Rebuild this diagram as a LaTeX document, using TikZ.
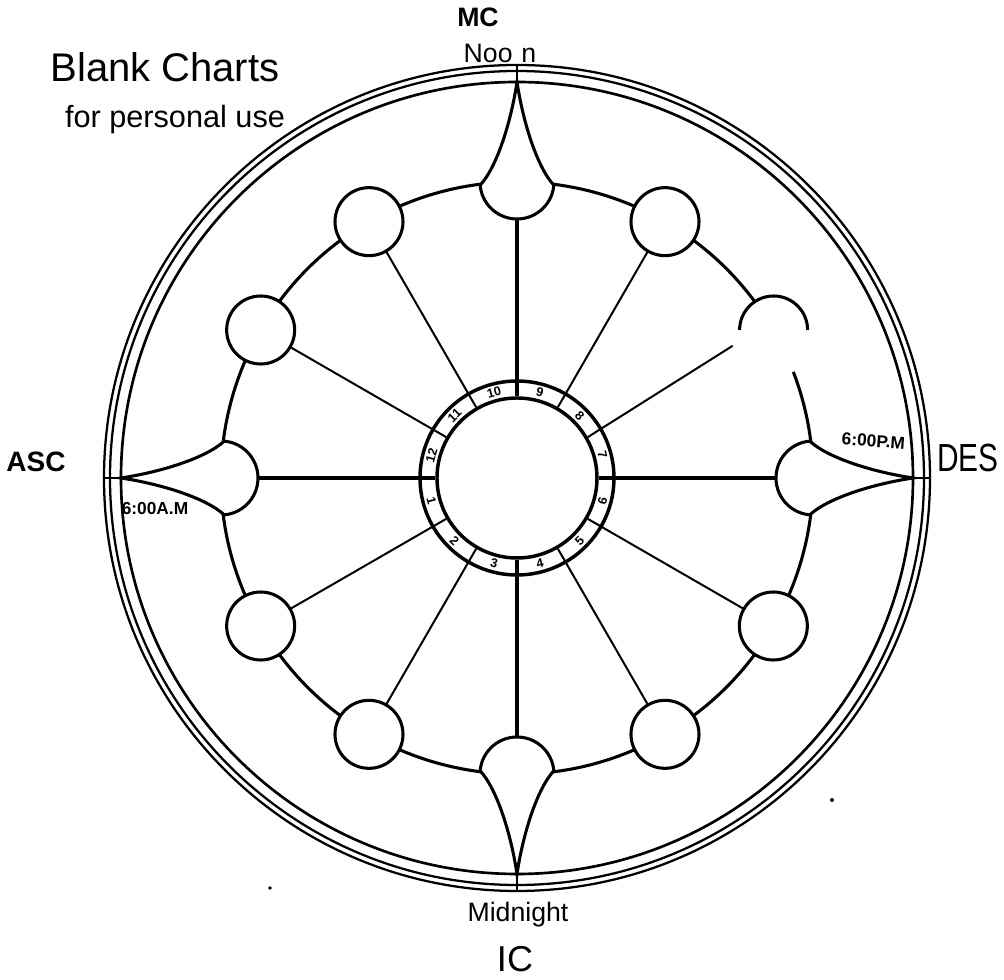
\documentclass[tikz,border=0pt]{standalone}
\usepackage{fontspec}
\setmainfont{Liberation Sans}
\begin{document}
\begin{tikzpicture}[x=0.75pt,y=0.75pt,
  ln/.style={line width=1.5pt},
  heavy/.style={line width=2.3pt},
  cardinal/.style={line width=3.4pt},
  rim/.style={line width=1.7pt},
  hcirc/.style={circle, draw, line width=2.3pt, fill=white, inner sep=0pt, minimum size=51pt},
  hblank/.style={circle, fill=white, inner sep=0pt, minimum size=51pt},
  bulb/.style={circle, inner sep=0pt, minimum size=55.5pt},
  numlbl/.style={font=\fontsize{9.5}{9.5}\selectfont\bfseries, inner sep=0pt},
  hand/.style={inner sep=0pt, anchor=base}]
\useasboundingbox (-517,478) rectangle (487,-502);
\fill[white] (-517,478) rectangle (487,-502);

% outer rims
\draw[rim, line width=2pt] (0,0) circle[radius=396];
\draw[rim] (0,0) circle[radius=407];
\draw[rim] (0,0) circle[radius=413];

% house ring (with the gap of the original)
\draw[heavy] (30:296) arc[start angle=30, end angle=381, radius=296];

% hub
\node[circle, draw, line width=2.6pt, inner sep=0pt, minimum size=120pt] (core) at (0,0) {};
\node[circle, draw, line width=2.6pt, inner sep=0pt, minimum size=145.5pt] (band) at (0,0) {};

% house nodes
\foreach \a in {60,120,150,210,240,300,330}
  \node[hblank] (h\a) at (\a:296) {};
\node[hblank] (h30) at (30:296) {};
\foreach \a in {0,90,180,270}
  \node[bulb] (t\a) at (\a:296) {};

% spokes
\foreach \a in {60,120,150,210,240,300,330}
  \draw[ln] (core.\a) -- (h\a);
\coordinate (cut30) at (31.5:253);
\draw[ln] (core.30) -- (cut30);
\draw[cardinal] (core.0) -- (t0);
\draw[cardinal] (core.180) -- (t180);
\draw[line width=2.8pt] (core.90) -- (t90);
\draw[cardinal] (core.270) -- (t270);

% house circles
\foreach \a in {60,120,150,210,240,300,330}
  \node[hcirc] at (h\a) {};
\draw[heavy] (h30.east) arc[start angle=0, end angle=180, radius=34];

% angular teardrops
\foreach \a in {0,90,180,270}{
  \begin{scope}[shift={(\a:296)}, rotate=\a-90]
    \filldraw[heavy, fill=white] (-5:37) arc[start angle=-5, end angle=-175, radius=37]
      .. controls (-20,15) and (-6,60) .. (0,100)
      .. controls (6,60) and (20,15) .. (-5:37) -- cycle;
    \draw[rim] (0,100) -- (0,117);
  \end{scope}
}

% house numbers
\foreach \k in {1,...,12}{
  \pgfmathsetmacro\ang{mod(165+30*\k,360)}
  \pgfmathsetmacro\rot{\ang<180 ? \ang-90 : \ang+90}
  \node[numlbl, rotate=\rot] (n\k) at (\ang:88.5) {\k};
}

% labels
\node[hand, font=\fontsize{30}{32}\selectfont] (title) at (-352,396) {Blank Charts};
\node[hand, font=\fontsize{23}{25}\selectfont] (sub) at (-342,350) {for personal use};
\node[hand, font=\fontsize{20}{22}\selectfont\bfseries] (mc) at (-39,451) {MC};
\node[hand, font=\fontsize{20}{22}\selectfont] (noon) at (-17,415) {Noo\,\,n};
\node[hand, font=\fontsize{28}{30}\selectfont] (des) at (451,6) {\scalebox{0.8}[1.05]{DES}};
\node[hand, font=\fontsize{21}{23}\selectfont\bfseries] (asc) at (-481,6) {ASC};
\node[hand, font=\fontsize{13}{15}\selectfont\bfseries] (am) at (-362,-37) {6:00A.M};
\node[hand, font=\fontsize{13}{15}\selectfont\bfseries, rotate=-4] (pm) at (356,31) {6:00P.M};
\node[hand, font=\fontsize{20}{22}\selectfont] (mid) at (1,-444) {Midnight};
\node[hand, font=\fontsize{27}{29}\selectfont] (ic) at (-2,-494) {IC};

% specks
\fill (315,-322) circle[radius=2];
\fill (-247,-410) circle[radius=1.8];
\end{tikzpicture}
\end{document}
